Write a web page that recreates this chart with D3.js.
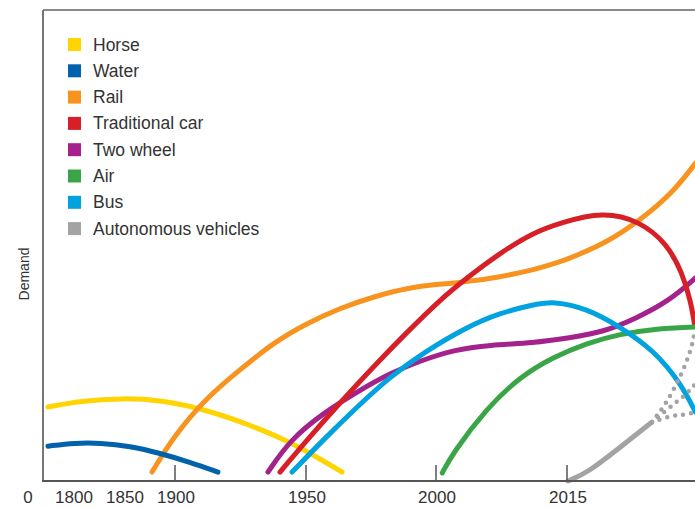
<!DOCTYPE html>
<html>
<head>
<meta charset="utf-8">
<script src="https://cdn.jsdelivr.net/npm/d3@7"></script>
<style>
  body { margin: 0; background: #fff; }
  text { font-family: "Liberation Sans", Arial, sans-serif; fill: #333; }
</style>
</head>
<body>
<svg id="chart" width="695" height="508"></svg>
<script>
// modes shown in the legend, in order
const modes = ['Horse', 'Water', 'Rail', 'Traditional car', 'Two wheel', 'Air', 'Bus', 'Autonomous vehicles']
const colors = ['#ffd400', '#0062ab', '#f7931e', '#d71f27', '#a3228b', '#3aa547', '#00a3df', '#a3a3a3']

// [year, demand]
const horse = [[1774.5, 15.7], [1805.9, 17.0], [1848, 17.6], [1884.3, 17.2], [1911.8, 15.1], [1928.2, 11.9], [1943.5, 8.3], [1955, 4.7], [1963.5, 1.9]]
const water = [[1774.5, 7.4], [1801, 8.1], [1825.5, 8.1], [1854.9, 7.4], [1884.3, 5.9], [1905.3, 4.0], [1916, 1.9]]
const rail = [[1876.5, 1.9], [1897.1, 9.3], [1911.8, 17.8], [1924.4, 23.6], [1937, 29.3], [1950, 33.5], [1962.7, 36.7], [1975.4, 39.1], [1988.5, 41.0], [2000.3, 41.8], [2003.4, 42.3], [2007.2, 43.3], [2011, 44.8], [2014.1, 46.5], [2015.6, 47.6], [2019.5, 50.7], [2023.3, 55.4], [2027.1, 61.4], [2029.6, 67.5]]
const car = [[1939.7, 1.9], [1950, 8.7], [1962.7, 16.6], [1975.4, 24.2], [1988.5, 31.6], [2000.3, 38.4], [2003.4, 43.1], [2007.2, 48.4], [2011, 52.7], [2014.1, 54.8], [2019, 57.2], [2023.2, 55.2], [2026.3, 50.5], [2028.1, 44.2], [2029.1, 37.8], [2029.5, 33.1]]
const twoWheel = [[1935.1, 1.9], [1943.5, 8.7], [1956.2, 14.4], [1969.2, 18.9], [1981.9, 22.9], [1994.6, 25.7], [2001.8, 27.8], [2006.1, 28.9], [2011, 29.3], [2015.2, 30.4], [2019, 31.6], [2022.9, 34.6], [2026.7, 38.4], [2029.6, 43.1]]
const air = [[2000.6, 1.7], [2001.8, 5.9], [2005.7, 15.5], [2009.5, 22.1], [2013.3, 26.3], [2017.2, 29.3], [2021, 31.2], [2024.8, 32.3], [2029.6, 32.7]]
const bus = [[1944.3, 1.9], [1956.2, 8.7], [1969.2, 15.7], [1981.9, 22.1], [1994.6, 27.2], [2003.4, 32.7], [2007.2, 35.7], [2011, 37.4], [2013.3, 38.2], [2017.2, 36.6], [2021, 32.7], [2024.8, 27.8], [2027.9, 20.8], [2029.6, 14.6]]
const autonomous = [[2015, 0], [2017.2, 1.7], [2021, 7.2], [2024.6, 12.5]]
// dotted scenarios for autonomous vehicles
const avHigh = [[2024.6, 12.5], [2026.4, 16.8], [2028.1, 23.1], [2029.1, 27.8], [2029.5, 31.6]]
const avMid = [[2024.6, 12.5], [2027.4, 16.8], [2028.5, 18.3], [2029.5, 20.4]]
const avLow = [[2024.6, 12.5], [2027.1, 14.0], [2028.3, 14.0], [2029.5, 14.6]]

const tickYears = [1900, 1950, 2000, 2015]
const labelYears = [1800, 1850, 1900, 1950, 2000, 2015]

let svg = d3.select('#chart')

// axis isn't linear - every labelled year gets its own stretch
let x = d3.scaleLinear()
    .domain([1800, 1850, 1900, 1950, 2000, 2015])
    .range([74, 125, 176, 307, 437, 568])

let y = d3.scaleLinear()
    .domain([0, 100])
    .range([481, 10])

let line = d3.line()
    .x(d => x(d[0]))
    .y(d => y(d[1]))
    .curve(d3.curveBasis)

// frame: top border + left axis
svg.append('line')
    .attr('x1', 43).attr('x2', 695)
    .attr('y1', 10).attr('y2', 10)
    .attr('stroke', '#8a8a8a').attr('stroke-width', 2)
svg.append('line')
    .attr('x1', 43).attr('x2', 43)
    .attr('y1', 10).attr('y2', 481)
    .attr('stroke', '#777').attr('stroke-width', 2)

// curves
let series = [horse, rail, water, twoWheel, car, air, bus, autonomous]
let seriesColor = [colors[0], colors[2], colors[1], colors[4], colors[3], colors[5], colors[6], colors[7]]

svg.append('clipPath').attr('id', 'plot')
    .append('rect')
    .attr('x', 43).attr('y', 10)
    .attr('width', 652).attr('height', 475)

let plot = svg.append('g').attr('clip-path', 'url(#plot)')

plot.selectAll('path.mode')
    .data(series)
    .enter()
    .append('path')
    .attr('class', 'mode')
    .attr('d', line)
    .attr('fill', 'none')
    .attr('stroke', (d, i) => seriesColor[i])
    .attr('stroke-width', 5)
    .attr('stroke-linecap', 'round')

plot.selectAll('path.scenario')
    .data([avHigh, avMid, avLow])
    .enter()
    .append('path')
    .attr('class', 'scenario')
    .attr('d', line)
    .attr('fill', 'none')
    .attr('stroke', colors[7])
    .attr('stroke-width', 4.5)
    .attr('stroke-linecap', 'round')
    .attr('stroke-dasharray', '0 8')

// x axis with inward ticks
let xAxis = svg.append('g')
xAxis.append('line')
    .attr('x1', 42).attr('x2', 695)
    .attr('y1', 481).attr('y2', 481)
    .attr('stroke', '#555').attr('stroke-width', 2)
xAxis.selectAll('line.tick')
    .data(tickYears)
    .enter()
    .append('line')
    .attr('class', 'tick')
    .attr('x1', d => x(d) - 1).attr('x2', d => x(d) - 1)
    .attr('y1', 465).attr('y2', 481)
    .attr('stroke', '#555').attr('stroke-width', 1.5)
xAxis.selectAll('text.year')
    .data(labelYears)
    .enter()
    .append('text')
    .attr('class', 'year')
    .attr('x', d => x(d))
    .attr('y', 503)
    .attr('text-anchor', 'middle')
    .style('font-size', '17px')
    .text(d => d)
// origin label
xAxis.append('text')
    .attr('x', 28).attr('y', 503)
    .attr('text-anchor', 'middle')
    .style('font-size', '17px')
    .text('0')

// y label
svg.append('text')
    .attr('transform', 'translate(29, 274) rotate(-90)')
    .attr('text-anchor', 'middle')
    .style('font-size', '14px')
    .text('Demand')

// legend
let legend = svg.append('g')
    .selectAll('g')
    .data(modes)
    .enter()
    .append('g')
    .attr('transform', (d, i) => 'translate(68,' + (38 + i * 26.3) + ')')

legend.append('rect')
    .attr('width', 13).attr('height', 13)
    .attr('fill', (d, i) => colors[i])

legend.append('text')
    .attr('x', 25)
    .attr('y', 12.5)
    .style('font-size', '17.5px')
    .text(d => d)
</script>
</body>
</html>
